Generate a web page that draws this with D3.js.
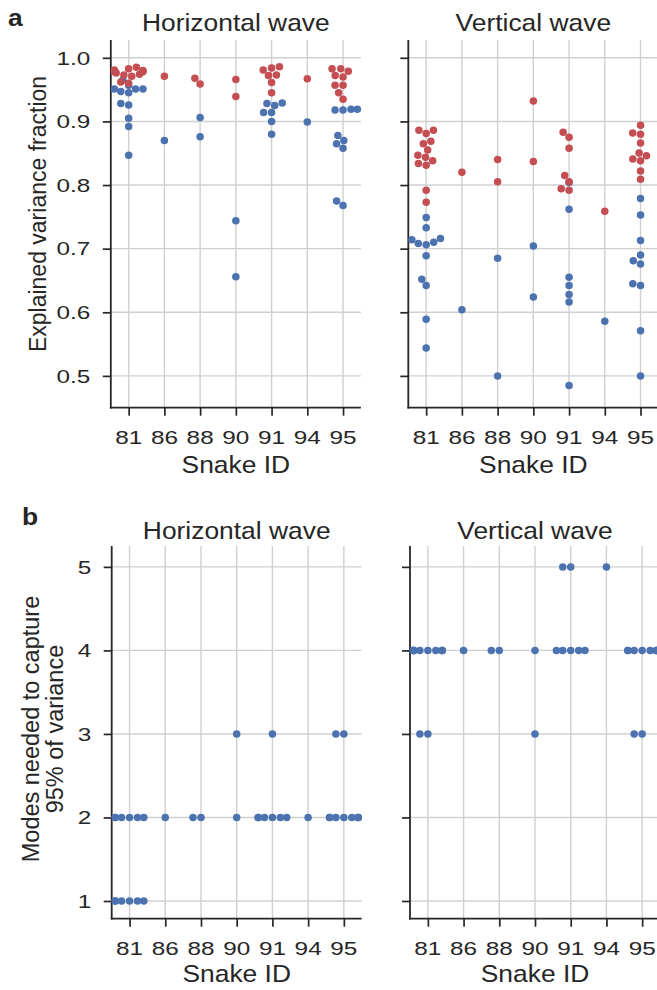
<!DOCTYPE html>
<html><head><meta charset="utf-8">
<script src="https://cdn.jsdelivr.net/npm/d3@7"></script>
<style>
body{margin:0;background:#fff}
text{font-family:"Liberation Sans",Arial,Helvetica,sans-serif;fill:#262626}
</style>
</head><body>
<svg id="c" width="657" height="990"></svg>
<script>
const snakeIds = ["81","86","88","90","91","94","95"];
const varTicks = [0.5,0.6,0.7,0.8,0.9,1.0];
const modeTicks = [1,2,3,4,5];

// Explained variance fraction, horizontal wave (one inner list per snake ID)
const horizRed = [
  [0.985,0.978,0.981,0.973,0.978,0.971,0.983,0.974,0.980,0.962,0.960,0.976],
  [0.971],
  [0.968,0.959],
  [0.966,0.939],
  [0.984,0.981,0.986,0.973,0.972,0.961,0.945],
  [0.967],
  [0.983,0.979,0.983,0.972,0.970,0.957,0.957,0.945,0.935]
];
const horizBlue = [
  [0.965,0.951,0.947,0.957,0.945,0.951,0.951,0.928,0.926,0.905,0.892,0.847],
  [0.870],
  [0.906,0.876],
  [0.744,0.656],
  [0.928,0.925,0.929,0.914,0.914,0.900,0.880],
  [0.899],
  [0.918,0.918,0.919,0.919,0.878,0.870,0.865,0.858,0.775,0.768]
];
// Explained variance fraction, vertical wave
const vertRed = [
  [0.886,0.881,0.886,0.865,0.869,0.855,0.847,0.8435,0.838,0.834,0.831,0.792,0.773],
  [0.820],
  [0.840,0.805],
  [0.932,0.837],
  [0.883,0.875,0.858,0.815,0.805,0.794,0.792],
  [0.759],
  [0.894,0.882,0.880,0.866,0.8505,0.846,0.841,0.838,0.822,0.809]
];
const vertBlue = [
  [0.749,0.733,0.714,0.708,0.716,0.706,0.710,0.689,0.652,0.642,0.589,0.544],
  [0.604],
  [0.685,0.500],
  [0.704,0.624],
  [0.804,0.762,0.655,0.642,0.628,0.616,0.485],
  [0.586],
  [0.779,0.753,0.713,0.690,0.681,0.676,0.645,0.642,0.571,0.500]
];
// Modes needed to capture 95% of variance
const horizModes = [
  [1,1,1,1,1,1,2,2,2,2,2,2],
  [2],
  [2,2],
  [3,2],
  [3,2,2,2,2,2,2],
  [2],
  [3,3,2,2,2,2,2,2,2,2]
];
const vertModes = [
  [4,4,4,4,4,4,4,4,4,4,3,3],
  [4],
  [4,4],
  [4,3],
  [5,5,4,4,4,4,4],
  [5],
  [4,4,4,4,4,4,4,4,3,3]
];

const BLUE = "#4c72b0", RED = "#c44e52", INK = "#262626", GRID = "#d0d0d0";
const svg = d3.select("#c");

function stext(parent, x, y, str, size, sx, anchor, weight) {
  return parent.append("text")
    .attr("transform", `translate(${x},${y}) scale(${sx},1)`)
    .attr("text-anchor", anchor || "middle")
    .style("font-size", size + "px")
    .style("font-weight", weight || "normal")
    .text(str);
}

function beeswarm(pts, cx, r, half) {
  const order = pts.slice().sort((a,b) => b.py - a.py); // ascending value
  const placed = [];
  const d = 2*r;
  order.forEach((p,i) => {
    if (i === 0) { p.px = cx; placed.push(p); return; }
    const nb = [];
    for (let k = placed.length-1; k >= 0; k--) {
      const q = placed[k];
      if (Math.abs(p.py - q.py) < d) nb.push(q); else break;
    }
    const cands = [cx];
    let leftFirst = true;
    nb.forEach(q => {
      const dy = p.py - q.py;
      const dx = Math.sqrt(Math.max(d*d - dy*dy, 0)) * 1.05;
      const cl = q.px - dx, cr = q.px + dx;
      if (leftFirst) cands.push(cl, cr); else cands.push(cr, cl);
      leftFirst = !leftFirst;
    });
    const sorted = cands.map((x,k) => [x,k]).sort((a,b) => {
      const da = Math.round(Math.abs(a[0]-cx)*1e4), db = Math.round(Math.abs(b[0]-cx)*1e4);
      return (da - db) || (a[1] - b[1]);
    });
    let chosen = null;
    for (const [x] of sorted) {
      if (nb.every(q => (q.px-x)*(q.px-x) + (q.py-p.py)*(q.py-p.py) >= d*d - 1e-6)) { chosen = x; break; }
    }
    if (chosen === null) chosen = cx;
    p.px = chosen; placed.push(p);
  });
  pts.forEach(p => { p.px = Math.max(cx-half, Math.min(cx+half, p.px)); });
}

function panel(cfg) {
  const g = svg.append("g");
  const x = d3.scalePoint().domain(snakeIds).range([cfg.x0, cfg.x1]).padding(0.5);
  const y = d3.scaleLinear().domain(cfg.ydom).range([cfg.y1, cfg.y0]);
  const step = x.step();

  // grid
  g.selectAll(".vg").data(snakeIds).join("line")
    .attr("x1", d => x(d)).attr("x2", d => x(d))
    .attr("y1", cfg.y0).attr("y2", cfg.y1)
    .attr("stroke", GRID).attr("stroke-width", 1.4);
  g.selectAll(".hg").data(cfg.ticks).join("line")
    .attr("x1", cfg.x0).attr("x2", cfg.x1)
    .attr("y1", d => y(d)).attr("y2", d => y(d))
    .attr("stroke", GRID).attr("stroke-width", 1.4);

  // axes (tick marks from d3 axes, labels drawn below)
  const ya = g.append("g").attr("transform", `translate(${cfg.x0},0)`)
    .call(d3.axisLeft(y).tickValues(cfg.ticks).tickSize(8).tickFormat(() => ""));
  const xa = g.append("g").attr("transform", `translate(0,${cfg.y1})`)
    .call(d3.axisBottom(x).tickSize(8).tickFormat(() => ""));
  [ya, xa].forEach(a => {
    a.select(".domain").remove();
    a.selectAll(".tick line").attr("stroke", INK).attr("stroke-width", 1.7);
  });
  if (cfg.showY) {
    cfg.ticks.forEach(t => stext(g, cfg.x0 - 20.5, y(t) + 6.8, cfg.fmt(t), 19, 1.28, "end"));
  }
  snakeIds.forEach(id => stext(g, x(id), cfg.y1 + 36, id, 19, 1.28, "middle"));

  // spines
  g.append("line").attr("x1", cfg.x0).attr("x2", cfg.x0).attr("y1", cfg.y0).attr("y2", cfg.y1+0.9)
    .attr("stroke", INK).attr("stroke-width", 1.8);
  g.append("line").attr("x1", cfg.x0-0.9).attr("x2", cfg.x1).attr("y1", cfg.y1).attr("y2", cfg.y1)
    .attr("stroke", INK).attr("stroke-width", 1.8);

  // points: each series swarmed on its own per snake ID, blue drawn first, red on top
  const r = 3.8, half = step*0.4;
  cfg.series.forEach(s => {
    let all = [];
    snakeIds.forEach((id, i) => {
      const pts = (s.values[i] || []).map(v => ({v, py: y(v)}));
      beeswarm(pts, x(id), r, half);
      all = all.concat(pts);
    });
    g.selectAll(null).data(all).join("circle")
      .attr("cx", p => p.px).attr("cy", p => p.py).attr("r", 3.75).attr("fill", s.color);
  });

  // titles
  const cxm = (cfg.x0 + cfg.x1) / 2;
  stext(g, cxm, cfg.titleY, cfg.title, 24, 1.1, "middle");
  stext(g, cxm, cfg.xlabY, "Snake ID", 24, 1.1, "middle");
}

const varFmt = d3.format(".1f"), modeFmt = d3.format("d");
panel({x0:110.8, x1:360.9, y0:40, y1:407.7, ydom:[0.45,1.028], ticks:varTicks, fmt:varFmt, showY:true,
  series:[{values:horizBlue, color:BLUE},{values:horizRed, color:RED}], title:"Horizontal wave", titleY:31, xlabY:472.5});
panel({x0:408.3, x1:658.4, y0:40, y1:407.7, ydom:[0.45,1.028], ticks:varTicks, fmt:varFmt, showY:false,
  series:[{values:vertBlue, color:BLUE},{values:vertRed, color:RED}], title:"Vertical wave", titleY:31, xlabY:472.5});
panel({x0:111.7, x1:361.7, y0:546, y1:918.7, ydom:[0.788,5.25], ticks:modeTicks, fmt:modeFmt, showY:true,
  series:[{values:horizModes, color:BLUE}], title:"Horizontal wave", titleY:539, xlabY:981.5});
panel({x0:410, x1:660, y0:546, y1:918.7, ydom:[0.788,5.25], ticks:modeTicks, fmt:modeFmt, showY:false,
  series:[{values:vertModes, color:BLUE}], title:"Vertical wave", titleY:539, xlabY:981.5});

// y labels
svg.append("text").attr("transform", "translate(46,214) rotate(-90)").attr("text-anchor", "middle")
  .style("font-size", "23px").text("Explained variance fraction");
const yl = svg.append("text").attr("transform", "translate(51,729) rotate(-90)").attr("text-anchor", "middle")
  .style("font-size", "23.5px");
yl.append("tspan").attr("x", 0).attr("dy", "-0.5em").text("Modes needed to capture");
yl.append("tspan").attr("x", 0).attr("dy", "1.02em").text("95% of variance");

// panel letters
stext(svg, 8, 26, "a", 24, 1.1, "start", "bold");
stext(svg, 22, 525, "b", 24, 1.1, "start", "bold");
</script>
</body></html>
